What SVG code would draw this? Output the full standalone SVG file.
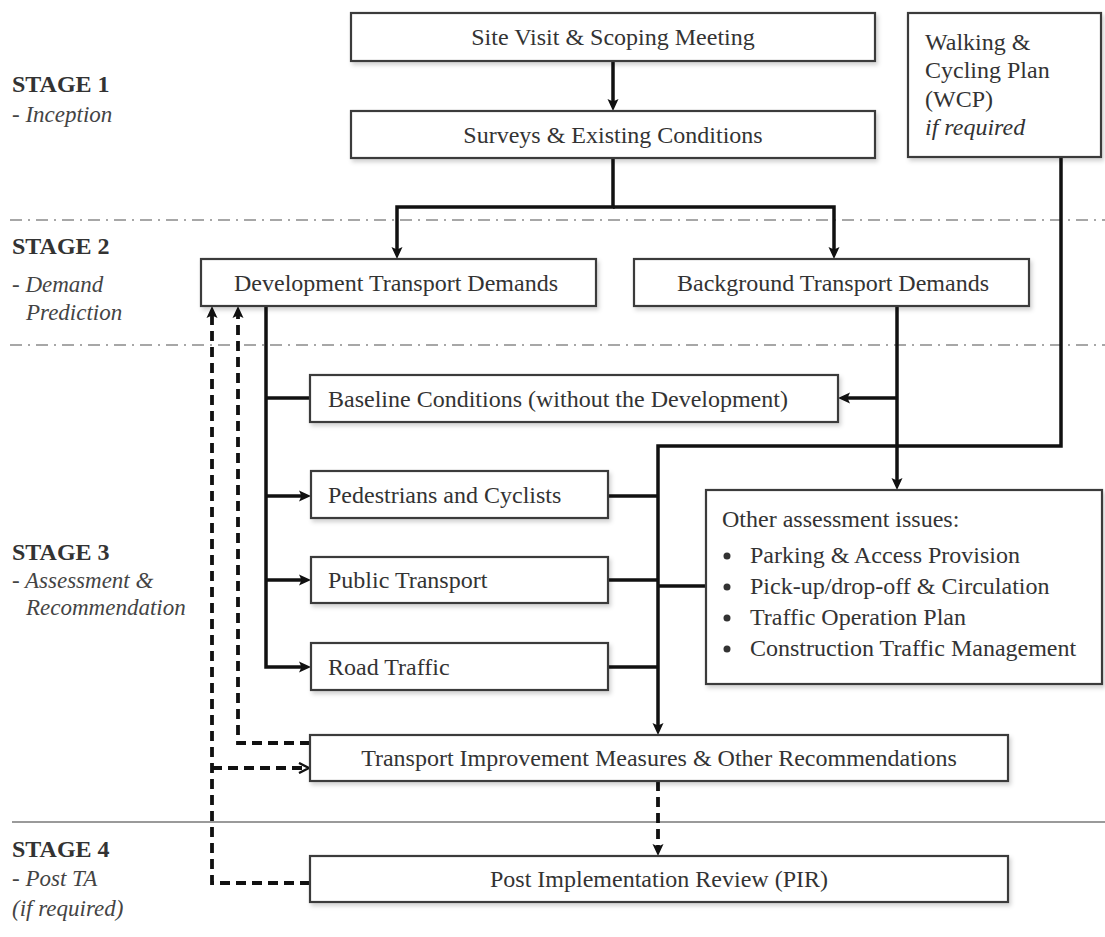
<svg xmlns="http://www.w3.org/2000/svg" width="1105" height="937" viewBox="0 0 1105 937">
<style>
  .box { fill: #ffffff; stroke: #3a3a3a; stroke-width: 2.2; filter: url(#sh); }
  .t { font-family: "Liberation Serif", "Times New Roman", serif; font-size: 24px; fill: #333333; }
  .c { text-anchor: middle; }
  .stage { font-family: "Liberation Serif", "Times New Roman", serif; font-size: 24px; font-weight: bold; fill: #333333; }
  .sub { font-family: "Liberation Serif", "Times New Roman", serif; font-size: 23px; font-style: italic; fill: #444444; }
  .ln { fill: none; stroke: #111111; stroke-width: 3.5; stroke-linejoin: miter; }
  .arr { marker-end: url(#ah); }
  .dash { fill: none; stroke: #111111; stroke-width: 3.8; stroke-dasharray: 10 6; }
  .sep { fill: none; stroke: #8a8a8a; stroke-width: 1.6; stroke-dasharray: 12 6 2 6; }
  .rule { fill: none; stroke: #9a9a9a; stroke-width: 2; }
</style>
<defs>
  <filter id="sh" x="-5%" y="-10%" width="115%" height="140%">
    <feDropShadow dx="2" dy="3" stdDeviation="2" flood-color="#000000" flood-opacity="0.18"/>
  </filter>
  <marker id="ah" viewBox="0 0 12 12" refX="6" refY="6" markerWidth="12" markerHeight="12" markerUnits="userSpaceOnUse" orient="auto">
    <path d="M0,0.5 L12,6 L0,11.5 L2.5,6 Z" fill="#111111"/>
  </marker>
  <marker id="oh" viewBox="0 0 12 12" refX="10" refY="6" markerWidth="12" markerHeight="12" markerUnits="userSpaceOnUse" orient="auto">
    <path d="M1,1 L11,6 L1,11" fill="none" stroke="#111111" stroke-width="2.4"/>
  </marker>
</defs>

<rect width="1105" height="937" fill="#ffffff"/>

<g id="separators">
  <line class="sep" x1="10" y1="220" x2="1105" y2="220"/>
  <line class="sep" x1="10" y1="345" x2="1105" y2="345"/>
  <line class="rule" x1="12" y1="822" x2="1105" y2="822"/>
</g>

<g id="stage-labels">
  <text class="stage" x="12" y="92">STAGE 1</text>
  <text class="sub" x="12" y="122">- Inception</text>
  <text class="stage" x="12" y="254">STAGE 2</text>
  <text class="sub" x="12" y="292">- Demand</text>
  <text class="sub" x="26" y="320">Prediction</text>
  <text class="stage" x="12" y="560">STAGE 3</text>
  <text class="sub" x="12" y="588">- Assessment &amp;</text>
  <text class="sub" x="26" y="615">Recommendation</text>
  <text class="stage" x="12" y="857">STAGE 4</text>
  <text class="sub" x="12" y="886">- Post TA</text>
  <text class="sub" x="12" y="916">(if required)</text>
</g>

<g id="connectors">
  <path class="ln arr" d="M613,61 V105"/>
  <path class="ln arr" d="M613,158 V207 H397 V253"/>
  <path class="ln arr" d="M613,207 H834 V253"/>
  <path class="ln arr" d="M266,306 V667 H305"/>
  <path class="ln" d="M266,398 H310"/>
  <path class="ln arr" d="M266,496 H305"/>
  <path class="ln arr" d="M266,580 H305"/>
  <path class="ln arr" d="M897,306 V484"/>
  <path class="ln arr" d="M897,398 H844"/>
  <path class="ln arr" d="M1061,157 V446 H658 V729"/>
  <path class="ln" d="M608,496 H658"/>
  <path class="ln" d="M608,580 H658"/>
  <path class="ln" d="M608,667 H658"/>
  <path class="ln" d="M706,586 H658"/>
  <path class="dash arr" d="M310,883 H212 V312"/>
  <path class="dash" d="M212,768 H308" marker-end="url(#oh)"/>
  <path class="dash arr" d="M310,743 H238 V312"/>
  <path class="dash arr" d="M658,781 V850"/>
</g>

<g id="site-visit">
  <rect class="box" x="351" y="13" width="524" height="48"/>
  <text class="t c" x="613" y="45">Site Visit &amp; Scoping Meeting</text>
</g>
<g id="surveys">
  <rect class="box" x="351" y="111" width="524" height="47"/>
  <text class="t c" x="613" y="143">Surveys &amp; Existing Conditions</text>
</g>
<g id="wcp">
  <rect class="box" x="908" y="13" width="193" height="144"/>
  <text class="t" x="925" y="50">Walking &amp;</text>
  <text class="t" x="925" y="78">Cycling Plan</text>
  <text class="t" x="925" y="107">(WCP)</text>
  <text class="t" x="925" y="135" font-style="italic">if required</text>
</g>
<g id="dev-demands">
  <rect class="box" x="201" y="259" width="395" height="47"/>
  <text class="t c" x="396" y="291">Development Transport Demands</text>
</g>
<g id="bg-demands">
  <rect class="box" x="634" y="259" width="395" height="47"/>
  <text class="t c" x="833" y="291">Background Transport Demands</text>
</g>
<g id="baseline">
  <rect class="box" x="310" y="375" width="528" height="47"/>
  <text class="t" x="328" y="407">Baseline Conditions (without the Development)</text>
</g>
<g id="pedestrians">
  <rect class="box" x="311" y="471" width="297" height="47"/>
  <text class="t" x="328" y="503">Pedestrians and Cyclists</text>
</g>
<g id="public-transport">
  <rect class="box" x="311" y="557" width="297" height="46"/>
  <text class="t" x="328" y="588">Public Transport</text>
</g>
<g id="road-traffic">
  <rect class="box" x="311" y="643" width="297" height="47"/>
  <text class="t" x="328" y="675">Road Traffic</text>
</g>
<g id="other-issues">
  <rect class="box" x="706" y="490" width="396" height="194"/>
  <text class="t" x="722" y="527">Other assessment issues:</text>
  <circle cx="727" cy="556" r="3.5" fill="#333333"/>
  <text class="t" x="750" y="563">Parking &amp; Access Provision</text>
  <circle cx="727" cy="587" r="3.5" fill="#333333"/>
  <text class="t" x="750" y="594">Pick-up/drop-off &amp; Circulation</text>
  <circle cx="727" cy="618" r="3.5" fill="#333333"/>
  <text class="t" x="750" y="625">Traffic Operation Plan</text>
  <circle cx="727" cy="649" r="3.5" fill="#333333"/>
  <text class="t" x="750" y="656">Construction Traffic Management</text>
</g>
<g id="improvement">
  <rect class="box" x="310" y="735" width="698" height="46"/>
  <text class="t c" x="659" y="766">Transport Improvement Measures &amp; Other Recommendations</text>
</g>
<g id="pir">
  <rect class="box" x="310" y="856" width="698" height="46"/>
  <text class="t c" x="659" y="887">Post Implementation Review (PIR)</text>
</g>
</svg>
